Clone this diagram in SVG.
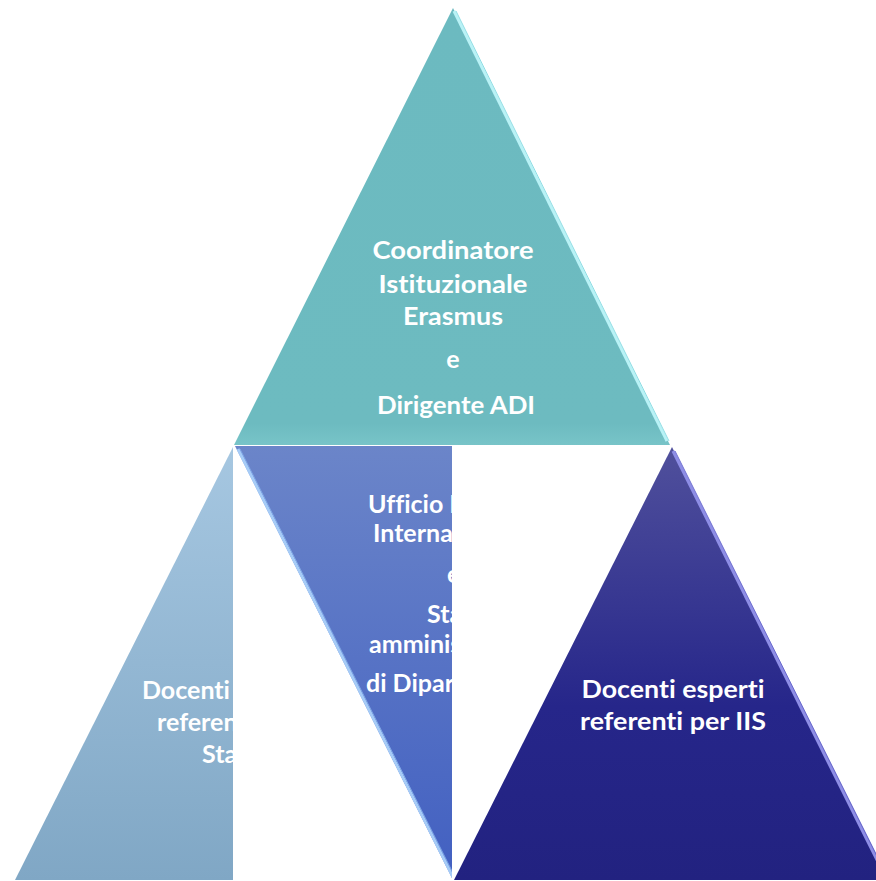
<svg xmlns="http://www.w3.org/2000/svg" width="876" height="881" viewBox="0 0 876 881">
  <defs>
    <linearGradient id="gTop" x1="0" y1="0" x2="0" y2="1">
      <stop offset="0" stop-color="#6cbac0"/>
      <stop offset="0.95" stop-color="#6dbbc0"/>
      <stop offset="1" stop-color="#78c4c8"/>
    </linearGradient>
    <linearGradient id="gLeft" x1="0" y1="0" x2="0" y2="1">
      <stop offset="0" stop-color="#a6c7e1"/>
      <stop offset="1" stop-color="#80a7c5"/>
    </linearGradient>
    <linearGradient id="gMid" x1="0" y1="0" x2="0" y2="1">
      <stop offset="0" stop-color="#6b85c9"/>
      <stop offset="1" stop-color="#4260c1"/>
    </linearGradient>
    <linearGradient id="gRight" x1="0" y1="0" x2="0" y2="1">
      <stop offset="0" stop-color="#50509c"/>
      <stop offset="0.6" stop-color="#26268a"/>
      <stop offset="1" stop-color="#222280"/>
    </linearGradient>
    <clipPath id="clipLeft"><rect x="0" y="0" width="233" height="881"/></clipPath>
    <clipPath id="clipMid"><rect x="0" y="0" width="452" height="881"/></clipPath>
  </defs>
  <style>
    .t { font-family: "Lato", "Liberation Sans", sans-serif; font-weight: bold; font-size: 25px; fill: #ffffff; font-variant-ligatures: none; }
    .c { text-anchor: middle; }
  </style>

  <g id="node-top">
    <polygon points="453,8 234,445 670,445" fill="url(#gTop)"/>
    <line x1="454" y1="11" x2="667" y2="441" stroke="#b9f2f6" stroke-width="3"/>
    <line x1="456" y1="11" x2="669" y2="441" stroke="#8fdde4" stroke-width="1"/>
    <text class="t c" x="453" y="259" textLength="161" lengthAdjust="spacingAndGlyphs">Coordinatore</text>
    <text class="t c" x="453" y="293" textLength="149" lengthAdjust="spacingAndGlyphs">Istituzionale</text>
    <text class="t c" x="453" y="325" textLength="100" lengthAdjust="spacingAndGlyphs">Erasmus</text>
    <text class="t c" x="453" y="368">e</text>
    <text class="t c" x="456" y="414" textLength="158" lengthAdjust="spacingAndGlyphs">Dirigente ADI</text>
  </g>

  <g id="node-left" clip-path="url(#clipLeft)">
    <polygon points="233,447 15,880 451,880" fill="url(#gLeft)"/>
    <text class="t" x="142" y="699">Docenti e</text>
    <text class="t" x="157" y="731">referenti</text>
    <text class="t" x="202" y="763">Staff</text>
  </g>

  <g id="node-middle" clip-path="url(#clipMid)">
    <polygon points="235,446 670,446 453,880" fill="url(#gMid)"/>
    <line x1="238" y1="449" x2="453" y2="877" stroke="#a6ccf7" stroke-width="3"/>
    <line x1="240" y1="449" x2="455" y2="877" stroke="#7fa6e6" stroke-width="1"/>
    <text class="t" x="368" y="513">Ufficio Mobilità</text>
    <text class="t" x="373" y="542">Internazionale</text>
    <text class="t" x="447" y="583">e</text>
    <text class="t" x="427" y="623">Staff</text>
    <text class="t" x="369" y="653">amministrativo</text>
    <text class="t" x="366" y="692">di Dipartimento</text>
  </g>

  <g id="node-right">
    <polygon points="672,447 454,880 889,880" fill="url(#gRight)"/>
    <line x1="673" y1="451" x2="886" y2="878" stroke="#8e8ee6" stroke-width="3"/>
    <line x1="675" y1="451" x2="888" y2="878" stroke="#6a6ad0" stroke-width="1"/>
    <text class="t c" x="673" y="698" textLength="183" lengthAdjust="spacingAndGlyphs">Docenti esperti</text>
    <text class="t c" x="673" y="730" textLength="186" lengthAdjust="spacingAndGlyphs">referenti per IIS</text>
  </g>
</svg>
